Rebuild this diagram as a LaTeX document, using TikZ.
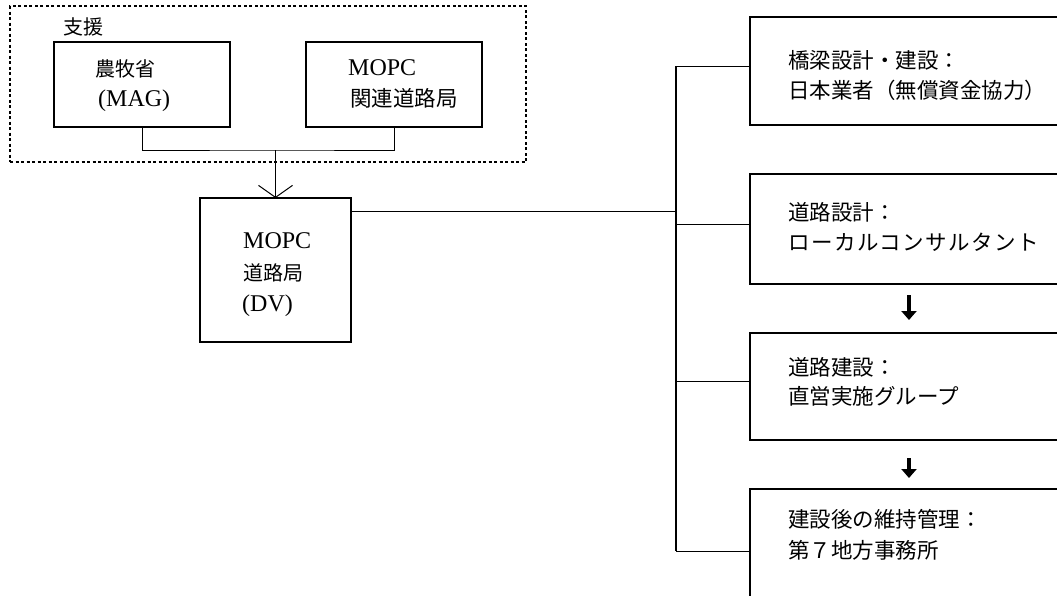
\documentclass[tikz,border=0pt]{standalone}
\usepackage{fontspec}
\setmainfont{Liberation Serif}
\newfontfamily\cjk{Noto Sans CJK JP}
\usetikzlibrary{arrows.meta}
\begin{document}
\begin{tikzpicture}[x=1pt,y=-1pt,
  box/.style={draw, line width=1.9pt, inner sep=0pt, outer sep=0pt},
  frame/.style={draw, line width=1.2pt, dash pattern=on 3pt off 2.5pt, inner sep=0pt, outer sep=0pt},
  conn/.style={line width=1pt},
  blk/.style={line width=4.5pt, -{Triangle[width=15pt,length=9pt]}},
  lat/.style={anchor=base west, inner sep=0pt, font=\fontsize{24}{26}\selectfont},
  jp/.style={anchor=base west, inner sep=0pt, font=\cjk\fontsize{21.5}{24}\selectfont},
  jps/.style={anchor=base west, inner sep=0pt, font=\cjk\fontsize{20}{24}\selectfont}
]
\useasboundingbox (0,0) rectangle (1057,595);
\clip (0,0) rectangle (1057,595);

% support frame
\node[frame, minimum width=516pt, minimum height=156pt] (frm) at (268,84) {};
\node[jps] (tsien) at (63,34) {支援};

% left boxes
\node[box, minimum width=176pt, minimum height=85pt] (mag) at (142,84.5) {};
\node[box, minimum width=176pt, minimum height=85pt] (mopc) at (394,84.5) {};
\node[box, minimum width=151pt, minimum height=144pt] (dv) at (275.5,270) {};

\node[jps] (tmag1) at (95,76) {農牧省};
\node[lat] (tmag2) at (98,106) {(MAG)};
\node[lat] (tmopc1) at (348,75) {MOPC};
\node[jp] (tmopc2) at (350,106) {関連道路局};
\node[lat] (tdv1) at (243,248) {MOPC};
\node[jps] (tdv2) at (243,280) {道路局};
\node[lat] (tdv3) at (242,311) {(DV)};

% right boxes
\node[box, minimum width=330pt, minimum height=108pt] (b1) at (915,71) {};
\node[box, minimum width=330pt, minimum height=110pt] (b2) at (915,229) {};
\node[box, minimum width=330pt, minimum height=107pt] (b3) at (915,386.5) {};
\node[box, minimum width=330pt, minimum height=151pt] (b4) at (915,564.5) {};

\node[jp] (t11) at (788,68) {橋梁設計・建設：};
\node[jp] (t12) at (788,98) {日本業者（無償資金協力）};
\node[jp] (t21) at (788,220) {道路設計：};
\node[jp, font=\cjk\fontsize{21.5}{24}\selectfont\addfontfeature{LetterSpace=7}] (t22) at (788,250) {ローカルコンサルタント};
\node[jp] (t31) at (788,375) {道路建設：};
\node[jp] (t32) at (788,404) {直営実施グループ};
\node[jp] (t41) at (788,527) {建設後の維持管理：};
\node[jp] (t42) at (788,558) {第７地方事務所};

% connectors: support to DV
\coordinate (j) at (275.5,150);
\draw[conn] (mag.south) |- (j) -| (mopc.south);
\draw[conn, -{Straight Barb[length=12pt,width=34pt,line width=1pt]}] (j) -- (dv.north);

% DV to trunk
\coordinate (d) at (676,211);
\coordinate (t1) at (676,66);
\coordinate (t2) at (676,224);
\coordinate (t3) at (676,381);
\coordinate (t4) at (676,551);
\draw[conn] (dv.east |- d) -- (d);
\draw[conn, line width=1.3pt] (t1) -- (t4);
\draw[conn] (t1) -- (t1 -| b1.west);
\draw[conn] (t2) -- (t2 -| b2.west);
\draw[conn] (t3) -- (t3 -| b3.west);
\draw[conn] (t4) -- (t4 -| b4.west);

% sequence arrows
\draw[blk, shorten <=11pt, shorten >=13pt] ([xshift=-6pt]b2.south) -- ([xshift=-6pt]b3.north);
\draw[blk, shorten <=18pt, shorten >=11pt] ([xshift=-6pt]b3.south) -- ([xshift=-6pt]b4.north);
\end{tikzpicture}
\end{document}
